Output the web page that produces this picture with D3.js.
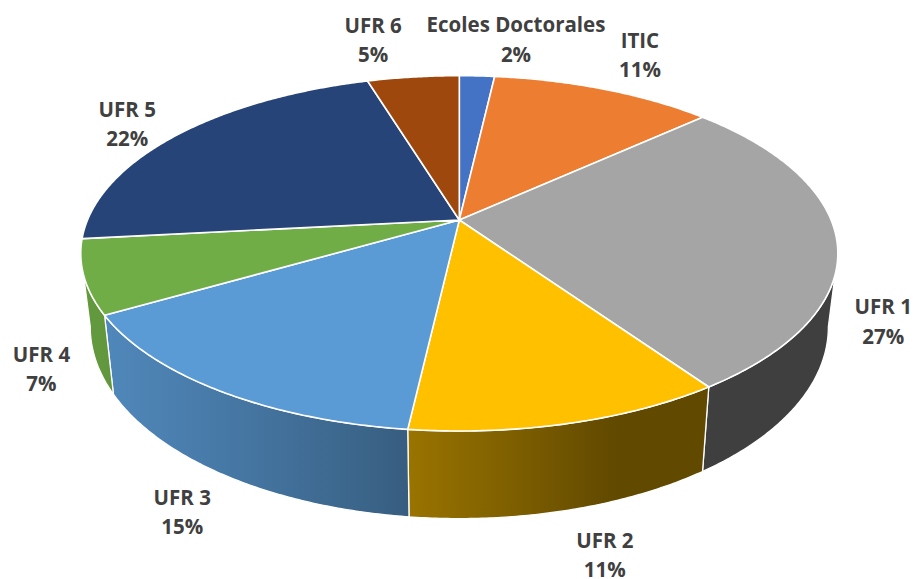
<!DOCTYPE html>
<html>
<head>
<meta charset="utf-8">
<script src="https://cdn.jsdelivr.net/npm/d3@7"></script>
<style>
  html, body { margin: 0; padding: 0; background: #fff; }
  svg { display: block; }
  .lbl { font-family: "Open Sans", sans-serif; font-weight: 700; font-size: 20.5px; fill: #404040; }
</style>
</head>
<body>
<div id="chart"></div>
<script>
// Data: share of each unit, clockwise from 12 o'clock
var categories = ['Ecoles Doctorales', 'ITIC', 'UFR 1', 'UFR 2', 'UFR 3', 'UFR 4', 'UFR 5', 'UFR 6'];
var values = [1.8, 11.4, 27.2, 11.4, 14.8, 6.7, 22.0, 4.7];
var colors = ['#4472C4', '#ED7D31', '#A5A5A5', '#FFC000', '#5B9BD5', '#70AD47', '#264478', '#9E480E'];
// label offsets from the slice rim anchor (best-fit placement)
var labelNudge = [[39, -36], [36, -34], [56, 10], [38, 45], [-42, 37], [-52, 17], [-51, -10], [-40, -37]];

var width = 913, height = 579;

// Setup: tilted disc with a bit of perspective
var cx = 459.3, cy = 220, rx = 371.8, ry = 171.4, persp = 0.1877, shrink = 0.975;

function topPt(t) {
  var s = Math.sin(t), c = Math.cos(t), d = 1 + persp * c;
  return [cx + rx * s / d, cy - ry * c / d];
}
function depth(t) { return 70.1 - 17.5 * Math.cos(t); }
function bottomPt(t) {
  var p = topPt(t);
  return [cx + (p[0] - cx) * shrink, p[1] + depth(t)];
}
function arcPts(a0, a1, fn) {
  var n = Math.max(2, Math.ceil(Math.abs(a1 - a0) / (Math.PI / 360)));
  return d3.range(n + 1).map(function(i) { return fn(a0 + (a1 - a0) * i / n); });
}
// light from the front-left for the rim
function shade(t) {
  return 0.38 + 0.5 * Math.max(0, -0.94 * Math.sin(t) - 0.34 * Math.cos(t));
}

// silhouette angles of the visible rim
var scan = d3.range(0, 1.0001, 0.002);
var thetaR = d3.greatest(scan.map(function(f) { return Math.PI / 2 + f * Math.PI / 4; }),
  function(t) { return topPt(t)[0] + bottomPt(t)[0]; });
var thetaL = d3.least(scan.map(function(f) { return 1.25 * Math.PI + f * Math.PI / 4; }),
  function(t) { return topPt(t)[0] + bottomPt(t)[0]; });

var total = d3.sum(values);
var pie = d3.pie().sort(null).value(function(d) { return d; }).startAngle(0).endAngle(2 * Math.PI);
var arcs = pie(values);

var svg = d3.select('#chart').append('svg')
  .attr('width', width)
  .attr('height', height);

var defs = svg.append('defs');
var line = d3.line();

// Sides
var gSide = svg.append('g');
arcs.forEach(function(d, i) {
  var s0 = Math.max(d.startAngle, thetaR), s1 = Math.min(d.endAngle, thetaL);
  if (s1 <= s0) return;
  var pts = arcPts(s0, s1, topPt).concat(arcPts(s1, s0, bottomPt));
  var xs = pts.map(function(p) { return p[0]; });
  var xmin = d3.min(xs), xmax = d3.max(xs);
  var base = d3.rgb(colors[i]);
  var grad = defs.append('linearGradient')
    .attr('id', 'side' + i)
    .attr('gradientUnits', 'userSpaceOnUse')
    .attr('x1', xmin).attr('x2', xmax).attr('y1', 0).attr('y2', 0);
  var stops = d3.range(13).map(function(k) {
    var t = s0 + (s1 - s0) * k / 12;
    var x = (topPt(t)[0] + bottomPt(t)[0]) / 2;
    var f = shade(t);
    return {
      off: Math.max(0, Math.min(1, (x - xmin) / (xmax - xmin))),
      col: d3.rgb(base.r * f, base.g * f, base.b * f).formatHex()
    };
  }).sort(function(p, q) { return p.off - q.off; });
  grad.selectAll('stop').data(stops).enter().append('stop')
    .attr('offset', function(s) { return s.off; })
    .attr('stop-color', function(s) { return s.col; });

  gSide.append('path')
    .attr('d', line(pts) + 'Z')
    .attr('fill', 'url(#side' + i + ')')
    .attr('stroke', '#fff')
    .attr('stroke-width', 1.3)
    .attr('stroke-linejoin', 'round');
});

// Top faces
var gTop = svg.append('g');
arcs.forEach(function(d, i) {
  var pts = [[cx, cy]].concat(arcPts(d.startAngle, d.endAngle, topPt));
  gTop.append('path')
    .attr('d', line(pts) + 'Z')
    .attr('fill', colors[i])
    .attr('stroke', '#fff')
    .attr('stroke-width', 1.6)
    .attr('stroke-linejoin', 'round');
});

// Labels
var gLbl = svg.append('g');
arcs.forEach(function(d, i) {
  var mid = (d.startAngle + d.endAngle) / 2;
  var front = mid > Math.PI / 2 && mid < 1.5 * Math.PI;
  var anchor = front ? bottomPt(mid) : topPt(mid);
  var x = anchor[0] + labelNudge[i][0], y = anchor[1] + labelNudge[i][1];
  var txt = gLbl.append('text')
    .attr('class', 'lbl')
    .attr('text-anchor', 'middle');
  txt.append('tspan').attr('x', x).attr('y', y - 7.5).text(categories[i]);
  txt.append('tspan').attr('x', x).attr('y', y + 22).text(Math.round(d.value / total * 100) + '%');
});
</script>
</body>
</html>
